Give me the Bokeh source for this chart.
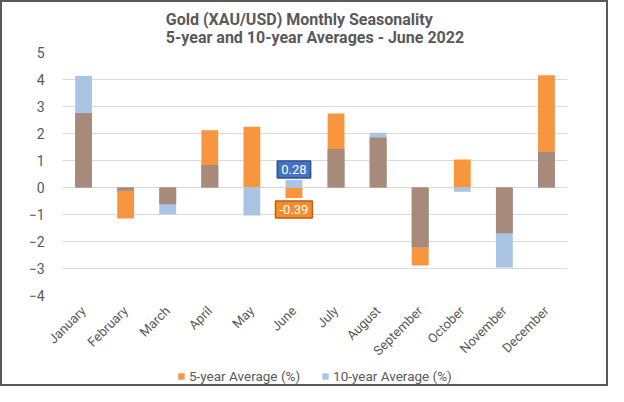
from math import pi
from bokeh.plotting import figure
from bokeh.layouts import column
from bokeh.models import Range1d, Title, Legend, LegendItem, ColumnDataSource
from bokeh.core.properties import value
from bokeh.embed import file_html
from bokeh.resources import INLINE

months = ["January", "February", "March", "April", "May", "June",
          "July", "August", "September", "October", "November", "December"]
five_year = [2.76, -1.15, -0.62, 2.12, 2.25, -0.39, 2.74, 1.85, -2.89, 1.04, -1.69, 4.16]
ten_year = [4.13, -0.12, -0.99, 0.83, -1.04, 0.28, 1.43, 2.03, -2.21, -0.16, -2.96, 1.32]
y_ticks = [-4, -3, -2, -1, 0, 1, 2, 3, 4, 5]
highlight = "June"
title_lines = ["Gold (XAU/USD) Monthly Seasonality", "5-year and 10-year Averages - June 2022"]

ORANGE = "#F7963E"
BLUE = "#A9C4E4"
BROWN = "#A88A7B"
TXT = "#595959"
FONT = "Roboto"

# overlap region (drawn in the blended colour)
overlap = []
for a, b in zip(five_year, ten_year):
    if a * b > 0:
        overlap.append((1 if a > 0 else -1) * min(abs(a), abs(b)))
    else:
        overlap.append(0.0)

src = ColumnDataSource(dict(m=months, five=five_year, ten=ten_year, ov=overlap))

p = figure(x_range=months, y_range=Range1d(-4, 5), width=604, height=364,
           output_backend="svg", toolbar_location=None,
           min_border_left=60, min_border_right=39, min_border_top=49, min_border_bottom=60)

p.vbar(x="m", top="five", bottom=0, width=0.4, source=src, fill_color=ORANGE, line_color=None)
p.vbar(x="m", top="ten", bottom=0, width=0.4, source=src, fill_color=BLUE, line_color=None)
p.vbar(x="m", top="ov", bottom=0, width=0.4, source=src, fill_color=BROWN, line_color=None)

i = months.index(highlight)
p.text(x=[highlight], y=[ten_year[i]], text=[f"{ten_year[i]:.2f}"], anchor="bottom_center",
       y_offset=-2, text_color="white", text_font=value(FONT), text_font_size="13px",
       background_fill_color="#4472C4", border_line_color="#2F528F", border_line_width=1.5,
       padding=4)
p.text(x=[highlight], y=[five_year[i]], text=[f"{five_year[i]:.2f}"], anchor="top_center",
       y_offset=3, text_color="white", text_font=value(FONT), text_font_size="13px",
       background_fill_color="#F28E2B", border_line_color="#C55A11", border_line_width=1.5,
       padding=4)

p.add_layout(Title(text="\n".join(title_lines), align="center",
                   text_font=FONT, text_font_size="16px", text_font_style="bold",
                   text_color=TXT, text_line_height=0.96, standoff=11), "above")

p.xgrid.grid_line_color = None
p.ygrid.grid_line_color = "#D9D9D9"
p.ygrid.ticker = y_ticks
p.yaxis.ticker = y_ticks
p.outline_line_color = None
for ax in (p.xaxis, p.yaxis):
    ax.axis_line_color = None
    ax.major_tick_line_color = None
    ax.minor_tick_line_color = None
    ax.major_label_text_font = FONT
    ax.major_label_text_color = TXT
p.xaxis.major_label_text_font_size = "13px"
p.yaxis.major_label_text_font_size = "14px"
p.yaxis.major_label_standoff = 12
p.xaxis.major_label_orientation = pi / 4
p.xaxis.major_label_standoff = 7

# legend strip
lg = figure(width=604, height=18, x_range=Range1d(0, 1), y_range=Range1d(0, 1),
            output_backend="svg", toolbar_location=None, min_border=0)
lg.axis.visible = False
lg.grid.visible = False
lg.outline_line_color = None
l5 = lg.vbar(x=[0.5], top=[0], bottom=[0], width=0.4, fill_color=ORANGE, line_color=None)
l10 = lg.vbar(x=[0.5], top=[0], bottom=[0], width=0.4, fill_color=BLUE, line_color=None)
legend = Legend(items=[LegendItem(label="5-year Average (%)", renderers=[l5]),
                       LegendItem(label="10-year Average (%)", renderers=[l10])],
                orientation="horizontal", location=(115, 0),
                label_text_font=FONT, label_text_font_size="13.5px", label_text_color=TXT,
                glyph_width=8, glyph_height=8, label_standoff=4, spacing=21, label_height=14,
                border_line_color=None, background_fill_alpha=0, padding=2, margin=0)
lg.add_layout(legend, "center")

layout = column(p, lg, spacing=0, styles={"border": "2px solid #595959"})
open("out.html", "w").write(file_html(layout, INLINE))
